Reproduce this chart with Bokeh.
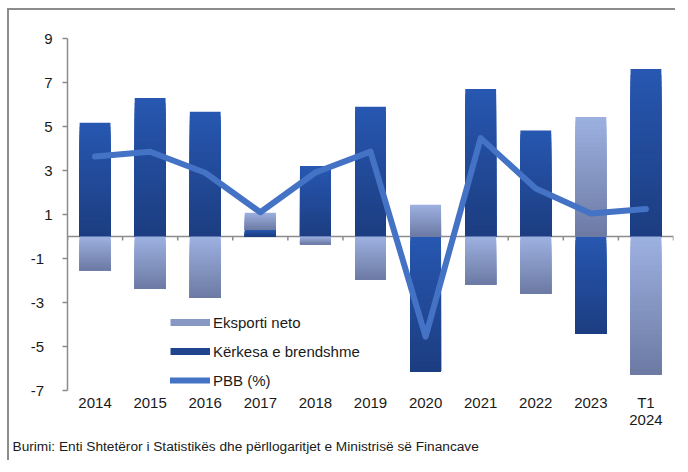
import numpy as np
from bokeh.plotting import figure
from bokeh.models import ColumnDataSource, FixedTicker, Legend, LegendItem, Title, Range1d
from bokeh.embed import file_html
from bokeh.resources import INLINE

# ---------------- data ----------------
categories = ["2014", "2015", "2016", "2017", "2018", "2019", "2020", "2021", "2022", "2023", "T1\n2024"]
kerkesa_brendshme = [5.17, 6.29, 5.67, 0.30, 3.20, 5.90, -6.15, 6.70, 4.82, -4.41, 7.61]
eksporti_neto = [-1.53, -2.39, -2.80, 0.78, -0.35, -1.98, 1.44, -2.18, -2.59, 5.43, -6.27]
pbb = [3.64, 3.85, 2.90, 1.10, 2.91, 3.86, -4.55, 4.47, 2.18, 1.05, 1.25]
y_ticks = [9, 7, 5, 3, 1, -1, -3, -5, -7]
y_tick_labels = ["9", "7", "5", "3", "1", "-1\u2007", "-3\u2007", "-5\u2007", "-7\u2007"]
series_names = ["Eksporti neto", "Kërkesa e brendshme", "PBB (%)"]
source_note = "Burimi: Enti Shtetëror i Statistikës dhe përllogaritjet e Ministrisë së Financave"

# ---------------- style ----------------
FONT = "Liberation Sans"
FS = "15px"
TXT = "#1a1a1a"
GREY = "#8c8c8c"
DARK_TOP, DARK_BOT = (39, 87, 177), (28, 61, 128)
LIGHT_TOP, LIGHT_BOT = (157, 177, 225), (108, 122, 163)
LINE_COL = "#4472C4"
W, H = 668, 452
ML, MR, MT, MB = 58, 4, 28, 72
Y0, Y1 = -7, 9
BAR_W = 0.56
N_SLICES = 28

xs = [i + 0.5 for i in range(len(categories))]

# stacking with signs (domestic demand first, then net exports)
pos_base = np.zeros(len(categories))
neg_base = np.zeros(len(categories))
segments = []  # (series_idx, x, bottom, top)
for s_idx, vals in ((1, kerkesa_brendshme), (0, eksporti_neto)):
    for i, v in enumerate(vals):
        if v >= 0:
            b, t = pos_base[i], pos_base[i] + v
            pos_base[i] = t
        else:
            b, t = neg_base[i] + v, neg_base[i]
            neg_base[i] = b
        segments.append((s_idx, xs[i], b, t))


def lerp(c0, c1, f):
    return "#%02x%02x%02x" % tuple(int(round(a + (b - a) * f)) for a, b in zip(c0, c1))


def slice_source(s_idx):
    # each bar is painted as nested bands sharing the bar's bottom, top band first,
    # giving a top-to-bottom gradient without seams
    ctop, cbot = (LIGHT_TOP, LIGHT_BOT) if s_idx == 0 else (DARK_TOP, DARK_BOT)
    d = dict(x=[], bottom=[], top=[], color=[])
    for si, x, b, t in segments:
        if si != s_idx:
            continue
        h = t - b
        for j in range(N_SLICES):
            d["x"].append(x)
            d["top"].append(t - h * j / N_SLICES)
            d["bottom"].append(b)
            d["color"].append(lerp(ctop, cbot, (j + 0.5) / N_SLICES))
    return ColumnDataSource(d)


p = figure(width=W, height=H, output_backend="svg", toolbar_location=None,
           x_range=Range1d(0, len(categories)), y_range=Range1d(Y0, Y1),
           min_border_left=ML, min_border_right=MR, min_border_top=MT, min_border_bottom=MB,
           background_fill_color="white", border_fill_color="white")
p.styles = {"border-top": "2px solid #8c8c8c", "border-left": "2px solid #8c8c8c",
            "margin-left": "7px", "margin-top": "8px"}
p.outline_line_color = None
p.grid.visible = False

frame_h = H - MT - MB
tick_len = 4 * (Y1 - Y0) / frame_h

# zero axis line and category ticks
p.segment(x0=[0], y0=[0], x1=[len(categories)], y1=[0], line_color=GREY, line_width=1.5)
bounds = list(range(len(categories) + 1))
p.segment(x0=bounds, y0=[0] * len(bounds), x1=bounds, y1=[-tick_len] * len(bounds),
          line_color=GREY, line_width=1.5)

# bars with vertical gradient
for s_idx in (1, 0):
    src = slice_source(s_idx)
    p.vbar(x="x", bottom="bottom", top="top", width=BAR_W, source=src,
           fill_color="color", line_color=None)

# GDP line
line_r = p.line(x=xs, y=pbb, line_color=LINE_COL, line_width=6,
                line_join="round", line_cap="round")

# legend proxies (thick single-point lines: draw nothing in the plot, a bar swatch in the legend)
leg_light = p.line(x=[xs[0]], y=[0], line_color=lerp(LIGHT_TOP, LIGHT_BOT, 0.45), line_width=7, line_cap="butt")
leg_dark = p.line(x=[xs[0]], y=[0], line_color=lerp(DARK_TOP, DARK_BOT, 0.7), line_width=7, line_cap="butt")
legend = Legend(items=[LegendItem(label=series_names[0], renderers=[leg_light]),
                       LegendItem(label=series_names[1], renderers=[leg_dark]),
                       LegendItem(label=series_names[2], renderers=[line_r])],
                location=(103, 0), orientation="vertical",
                glyph_width=40, glyph_height=20, label_height=20, spacing=9,
                label_standoff=3, padding=0, margin=0,
                background_fill_alpha=0, border_line_color=None,
                label_text_font=FONT, label_text_font_size=FS, label_text_color=TXT)
p.add_layout(legend, "center")

# axes
ya = p.yaxis[0]
ya.ticker = FixedTicker(ticks=y_ticks)
ya.major_label_overrides = {t: l for t, l in zip(y_ticks, y_tick_labels)}
ya.axis_line_color = GREY
ya.axis_line_width = 1.5
ya.major_tick_line_color = GREY
ya.major_tick_line_width = 1.5
ya.major_tick_out = 5
ya.major_tick_in = 0
ya.minor_tick_line_color = None
ya.major_label_standoff = 10
ya.major_label_text_font = FONT
ya.major_label_text_font_size = FS
ya.major_label_text_color = TXT

xa = p.xaxis[0]
xa.ticker = FixedTicker(ticks=xs)
xa.major_label_overrides = {x: c for x, c in zip(xs, categories)}
xa.axis_line_color = None
xa.major_tick_line_color = None
xa.minor_tick_line_color = None
xa.major_tick_out = 0
xa.major_tick_in = 0
xa.major_label_standoff = 3
xa.major_label_text_font = FONT
xa.major_label_text_font_size = FS
xa.major_label_text_color = TXT
xa.major_label_text_line_height = 1.05

# source note under the axis
p.add_layout(Title(text=source_note, align="left", offset=-55, standoff=11,
                   text_font="Liberation Sans", text_font_size="13.7px",
                   text_font_style="normal", text_color=TXT), "below")

open("out.html", "w").write(file_html(p, INLINE))
